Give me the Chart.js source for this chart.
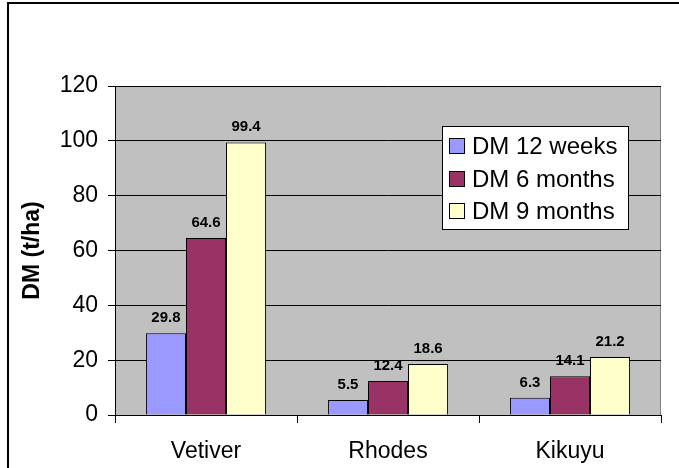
<!DOCTYPE html>
<html>
<head>
<meta charset="utf-8">
<script src="https://cdn.jsdelivr.net/npm/chart.js@4.4.1/dist/chart.umd.min.js"></script>
<style>
html,body{margin:0;padding:0;background:#fff;}
#wrap{width:679px;height:468px;position:relative;}
</style>
</head>
<body>
<div id="wrap"><canvas id="c" width="679" height="468"></canvas></div>
<script>
const categories = ["Vetiver", "Rhodes", "Kikuyu"];
const seriesNames = ["DM 12 weeks", "DM 6 months", "DM 9 months"];
const dm12weeks = [29.8, 5.5, 6.3];
const dm6months = [64.6, 12.4, 14.1];
const dm9months = [99.4, 18.6, 21.2];
const yTicks = [0, 20, 40, 60, 80, 100, 120];
const colors = ["#9999FF", "#993366", "#FFFFCC"];

const FONT = "'Liberation Sans', Arial, sans-serif";

const bgPlugin = {
  id: 'bg',
  beforeDraw(chart) {
    const ctx = chart.ctx, a = chart.chartArea;
    ctx.save();
    ctx.fillStyle = '#fff';
    ctx.fillRect(0, 0, chart.width, chart.height);
    ctx.strokeStyle = '#000';
    ctx.lineWidth = 2;
    ctx.beginPath();
    ctx.moveTo(8, 468);
    ctx.lineTo(8, 3);
    ctx.lineTo(679, 3);
    ctx.stroke();
    ctx.fillStyle = '#C0C0C0';
    ctx.fillRect(a.left, a.top, a.right - a.left, a.bottom - a.top);
    ctx.strokeStyle = '#808080';
    ctx.lineWidth = 1;
    ctx.beginPath();
    ctx.moveTo(a.left, a.top + 0.5);
    ctx.lineTo(a.right - 0.5, a.top + 0.5);
    ctx.lineTo(a.right - 0.5, a.bottom);
    ctx.stroke();
    ctx.restore();
  }
};

const labelPlugin = {
  id: 'labels',
  afterDatasetsDraw(chart) {
    const ctx = chart.ctx;
    ctx.save();
    ctx.font = "bold 15px " + FONT;
    ctx.fillStyle = '#000';
    ctx.textAlign = 'center';
    ctx.textBaseline = 'alphabetic';
    chart.data.datasets.forEach((ds, i) => {
      const meta = chart.getDatasetMeta(i);
      meta.data.forEach((bar, j) => {
        ctx.fillText(ds.data[j].toFixed(1), bar.x, bar.y - 11);
      });
    });
    const lx = 442.5, ly = 126.5, lw = 186, lh = 103;
    ctx.fillStyle = '#fff';
    ctx.fillRect(lx, ly, lw, lh);
    ctx.strokeStyle = '#000';
    ctx.lineWidth = 1;
    ctx.strokeRect(lx, ly, lw, lh);
    ctx.font = "24px " + FONT;
    ctx.textAlign = 'left';
    ctx.textBaseline = 'middle';
    const rows = [146, 179, 211];
    seriesNames.forEach((n, i) => {
      ctx.fillStyle = colors[i];
      ctx.fillRect(449.5, rows[i] - 7.5, 15, 15);
      ctx.strokeStyle = '#000';
      ctx.strokeRect(449.5, rows[i] - 7.5, 15, 15);
      ctx.fillStyle = '#000';
      ctx.fillText(n, 472, rows[i] + 1);
    });
    ctx.restore();
  }
};

new Chart(document.getElementById('c'), {
  type: 'bar',
  data: {
    labels: categories,
    datasets: [
      { label: seriesNames[0], data: dm12weeks, backgroundColor: colors[0] },
      { label: seriesNames[1], data: dm6months, backgroundColor: colors[1] },
      { label: seriesNames[2], data: dm9months, backgroundColor: colors[2] }
    ].map(d => Object.assign(d, { borderColor: '#000', borderWidth: 1, categoryPercentage: 0.66, barPercentage: 1 }))
  },
  options: {
    responsive: false,
    animation: false,
    layout: { padding: { left: 0, top: 86, right: 18, bottom: 0 } },
    plugins: { legend: { display: false }, tooltip: { enabled: false } },
    scales: {
      x: {
        grid: { display: true, offset: true, drawOnChartArea: false, color: '#000', tickLength: 8, lineWidth: 1 },
        border: { color: '#000', width: 1 },
        ticks: { color: '#000', font: { family: FONT, size: 23 }, padding: 15 },
        afterFit(s) { s.height = 53; }
      },
      y: {
        min: 0, max: 120,
        afterBuildTicks(s) { s.ticks = yTicks.map(v => ({ value: v })); },
        grid: { color: '#000', tickLength: 7, lineWidth: 1 },
        border: { color: '#000', width: 1 },
        ticks: { color: '#000', font: { family: FONT, size: 23 }, padding: 10 },
        title: { display: true, text: 'DM (t/ha)', color: '#000', font: { family: FONT, size: 23, weight: 'bold' }, padding: { top: 19, bottom: 0 } },
        afterFit(s) { s.width = 115; }
      }
    }
  },
  plugins: [bgPlugin, labelPlugin]
});
</script>
</body>
</html>
